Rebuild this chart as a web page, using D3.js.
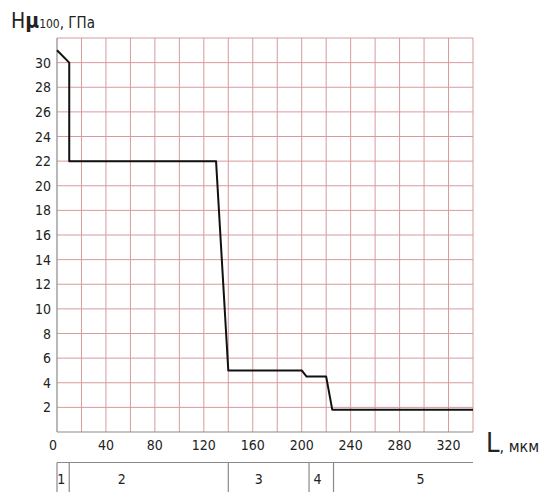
<!DOCTYPE html>
<html>
<head>
<meta charset="utf-8">
<script src="https://cdn.jsdelivr.net/npm/d3@7"></script>
<style>
  body { margin: 0; background: #fff; }
  text { font-family: "DejaVu Sans Condensed", "DejaVu Sans", sans-serif; fill: #222; }
</style>
</head>
<body>
<div id="chart"></div>
<script>
// hardness profile, L in µm, Hµ100 in GPa
const depthL = [0, 10, 10, 130, 140, 200, 204, 220, 225, 340];
const hardness = [31, 30, 22, 22, 5, 5, 4.5, 4.5, 1.8, 1.8];

const xTicks = [0, 40, 80, 120, 160, 200, 240, 280, 320];
const yTicks = [2, 4, 6, 8, 10, 12, 14, 16, 18, 20, 22, 24, 26, 28, 30];

// zones under the axis
const zoneBounds = [0, 10, 140, 206, 226, 340];
const zoneLabels = ["1", "2", "3", "4", "5"];
const zoneLabelX = [3.5, 53, 165, 213, 297];

const width = 541, height = 492;
const margin = { top: 38, right: 68, bottom: 60, left: 57 };

const x = d3.scaleLinear().domain([0, 340]).range([margin.left, width - margin.right]);
const y = d3.scaleLinear().domain([0, 32]).range([height - margin.bottom, margin.top]);

const svg = d3.select("#chart").append("svg")
  .attr("width", width)
  .attr("height", height);

const gridColor = "#d89a9d";

// grid
svg.append("g")
  .selectAll("line")
  .data(d3.range(20, 341, 20))
  .join("line")
  .attr("x1", d => x(d)).attr("x2", d => x(d))
  .attr("y1", y(0)).attr("y2", y(32))
  .attr("stroke", gridColor).attr("stroke-width", 1);

svg.append("g")
  .selectAll("line")
  .data(d3.range(2, 33, 2))
  .join("line")
  .attr("x1", x(0)).attr("x2", x(340))
  .attr("y1", d => y(d)).attr("y2", d => y(d))
  .attr("stroke", gridColor).attr("stroke-width", 1);

// left and bottom axis lines
svg.append("line")
  .attr("x1", x(0)).attr("x2", x(0)).attr("y1", y(0)).attr("y2", y(32))
  .attr("stroke", "#8a8a8a").attr("stroke-width", 1.2);
svg.append("line")
  .attr("x1", x(0)).attr("x2", x(340)).attr("y1", y(0)).attr("y2", y(0))
  .attr("stroke", "#8a8a8a").attr("stroke-width", 1.2);

// tick labels
svg.append("g")
  .selectAll("text")
  .data(yTicks)
  .join("text")
  .attr("x", x(0) - 6)
  .attr("y", d => y(d))
  .attr("dy", "0.36em")
  .attr("text-anchor", "end")
  .style("font-size", "14px")
  .text(d => d);

svg.append("g")
  .selectAll("text")
  .data(xTicks)
  .join("text")
  .attr("x", d => d === 0 ? x(d) - 4 : x(d))
  .attr("y", y(0) + 18)
  .attr("text-anchor", "middle")
  .style("font-size", "14px")
  .text(d => d);

// profile line
const line = d3.line()
  .x((d, i) => x(depthL[i]))
  .y(d => y(d));

svg.append("path")
  .datum(hardness)
  .attr("fill", "none")
  .attr("stroke", "#111")
  .attr("stroke-width", 2)
  .attr("stroke-linejoin", "round")
  .attr("d", line);

// axis titles
const yTitle = svg.append("text")
  .attr("x", 11)
  .attr("y", 28);
yTitle.append("tspan").style("font-size", "21px").text("H");
yTitle.append("tspan").style("font-size", "21px").style("font-weight", "bold").text("μ");
yTitle.append("tspan").style("font-size", "12px").text("100");
yTitle.append("tspan").style("font-size", "15px").text(", ГПа");

const xTitle = svg.append("text")
  .attr("x", 486)
  .attr("y", 452);
xTitle.append("tspan").style("font-size", "27px").text("L");
xTitle.append("tspan").style("font-size", "16px").text(", мкм");

// zone table
const tableTop = 462.5;
svg.append("line")
  .attr("x1", x(0)).attr("x2", x(340)).attr("y1", tableTop).attr("y2", tableTop)
  .attr("stroke", "#8a8a8a").attr("stroke-width", 1.2);

svg.append("g")
  .selectAll("line")
  .data(zoneBounds.slice(0, -1))
  .join("line")
  .attr("x1", d => x(d)).attr("x2", d => x(d))
  .attr("y1", tableTop).attr("y2", height)
  .attr("stroke", "#8a8a8a").attr("stroke-width", 1.2);

svg.append("g")
  .selectAll("text")
  .data(zoneLabels)
  .join("text")
  .attr("x", (d, i) => x(zoneLabelX[i]))
  .attr("y", 484)
  .attr("text-anchor", "middle")
  .style("font-size", "14px")
  .text(d => d);
</script>
</body>
</html>
